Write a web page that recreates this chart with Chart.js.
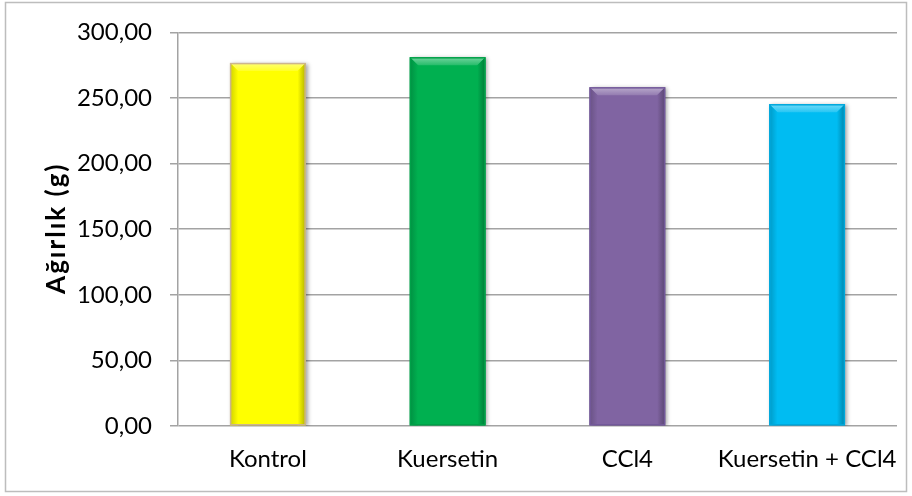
<!DOCTYPE html>
<html>
<head>
<meta charset="utf-8">
<script src="https://cdn.jsdelivr.net/npm/chart.js@4.4.1/dist/chart.umd.min.js"></script>
<style>
  html, body { margin: 0; padding: 0; background: #fff; }
  #wrap { width: 912px; height: 496px; }
</style>
</head>
<body>
<div id="wrap"><canvas id="myChart" width="912" height="496"></canvas></div>
<script>
// groups and body weights (g)
const categories = ['Kontrol', 'Kuersetin', 'CCl4', 'Kuersetin + CCl4'];
const weights = [276.6, 281.0, 258.1, 245.2];
const barColors = ['#ffff00', '#00b050', '#8064a2', '#00bcf2'];
const barEdges = ['#cdb58e', '#00a048', '#72589a', '#00a8dc'];
const yTicks = [0, 50, 100, 150, 200, 250, 300];
const yTitle = 'Ağırlık (g)';

const family = 'Lato, "Liberation Sans", sans-serif';
const labelFont = { family, size: 24 };

// mix a hex colour toward white (amt > 0) or black (amt < 0)
function shade(hex, amt) {
  const n = parseInt(hex.slice(1), 16);
  let r = n >> 16, g = (n >> 8) & 255, b = n & 255;
  const t = amt < 0 ? 0 : 255, p = Math.abs(amt);
  r = Math.round(r + (t - r) * p);
  g = Math.round(g + (t - g) * p);
  b = Math.round(b + (t - b) * p);
  return `rgb(${r},${g},${b})`;
}

// outer frame around the whole chart
const frame = {
  id: 'frame',
  beforeDraw(chart) {
    const { ctx } = chart;
    ctx.save();
    ctx.fillStyle = '#fff';
    ctx.fillRect(0, 0, chart.width, chart.height);
    ctx.strokeStyle = '#bdbdbd';
    ctx.lineWidth = 1.5;
    ctx.strokeRect(5.5, 2.5, 901, 489);
    ctx.restore();
  },
};

// rotated, letter-spaced y axis title
const axisTitle = {
  id: 'axisTitle',
  afterDraw(chart) {
    const { ctx, chartArea } = chart;
    ctx.save();
    ctx.translate(57, (chartArea.top + chartArea.bottom) / 2);
    ctx.rotate(-Math.PI / 2);
    ctx.font = `bold 26px ${family}`;
    ctx.letterSpacing = '2px';
    ctx.fillStyle = '#000';
    ctx.textAlign = 'center';
    ctx.textBaseline = 'middle';
    ctx.fillText(yTitle, 1, 0);
    ctx.restore();
  },
};

// soft drop shadow under the bars, then a bevel on top of them
const bevel = {
  id: 'bevel',
  beforeDatasetsDraw(chart) {
    const { ctx } = chart;
    ctx.save();
    ctx.shadowColor = 'rgba(0,0,0,0.35)';
    ctx.shadowBlur = 4;
    ctx.shadowOffsetX = 2;
    ctx.shadowOffsetY = 1;
  },
  afterDatasetsDraw(chart) {
    const { ctx } = chart;
    ctx.restore();
    ctx.save();
    chart.getDatasetMeta(0).data.forEach((bar, i) => {
      const { x, y, base, width } = bar.getProps(['x', 'y', 'base', 'width'], true);
      const l = x - width / 2, r = x + width / 2, t = y, b = base;
      const d = 8;
      const c = barColors[i];

      // lighter top face
      let g = ctx.createLinearGradient(0, t, 0, t + d);
      g.addColorStop(0, shade(c, 0.45));
      g.addColorStop(1, shade(c, 0.15));
      ctx.fillStyle = g;
      ctx.beginPath();
      ctx.moveTo(l, t); ctx.lineTo(r, t); ctx.lineTo(r - d, t + d); ctx.lineTo(l + d, t + d);
      ctx.closePath(); ctx.fill();

      // darker left side
      g = ctx.createLinearGradient(l, 0, l + d, 0);
      g.addColorStop(0, shade(c, -0.18));
      g.addColorStop(1, shade(c, 0));
      ctx.fillStyle = g;
      ctx.beginPath();
      ctx.moveTo(l, t); ctx.lineTo(l + d, t + d); ctx.lineTo(l + d, b); ctx.lineTo(l, b);
      ctx.closePath(); ctx.fill();

      // darker right side
      g = ctx.createLinearGradient(r, 0, r - d, 0);
      g.addColorStop(0, shade(c, -0.3));
      g.addColorStop(1, shade(c, 0));
      ctx.fillStyle = g;
      ctx.beginPath();
      ctx.moveTo(r, t); ctx.lineTo(r - d, t + d); ctx.lineTo(r - d, b); ctx.lineTo(r, b);
      ctx.closePath(); ctx.fill();

      // edge
      ctx.strokeStyle = barEdges[i];
      ctx.lineWidth = 1.5;
      ctx.strokeRect(l + 0.5, t + 0.5, width - 1, b - t - 1);
    });
    ctx.restore();
  },
};

const config = {
  type: 'bar',
  data: {
    labels: categories,
    datasets: [{
      label: yTitle,
      data: weights,
      backgroundColor: barColors,
      borderWidth: 0,
      categoryPercentage: 1,
      barPercentage: 0.42,
    }],
  },
  options: {
    responsive: false,
    animation: false,
    layout: { padding: { left: 0, top: 31, right: 15, bottom: 0 } },
    plugins: {
      legend: { display: false },
      tooltip: { enabled: false },
    },
    scales: {
      x: {
        grid: { display: false, drawTicks: false },
        border: { display: false },
        ticks: { color: '#000', font: labelFont, padding: 19, maxRotation: 0, autoSkip: false },
        afterFit(s) {
          s.height = 70;
          // long last label may overhang into the right margin
          s.paddingLeft = 0;
          s.paddingRight = 0;
        },
      },
      y: {
        min: 0,
        max: 300,
        afterBuildTicks(s) { s.ticks = yTicks.map(v => ({ value: v })); },
        grid: { color: '#a3a3a3', lineWidth: 1.5, tickLength: 8 },
        border: { color: '#a3a3a3', width: 1.5 },
        ticks: {
          color: '#000',
          font: labelFont,
          padding: 18,
          callback: v => v.toFixed(2).replace('.', ','),
        },
        afterFit(s) { s.width = 178; },
      },
    },
  },
  plugins: [frame, bevel, axisTitle],
};

const myChart = new Chart(document.getElementById('myChart'), config);
</script>
</body>
</html>
